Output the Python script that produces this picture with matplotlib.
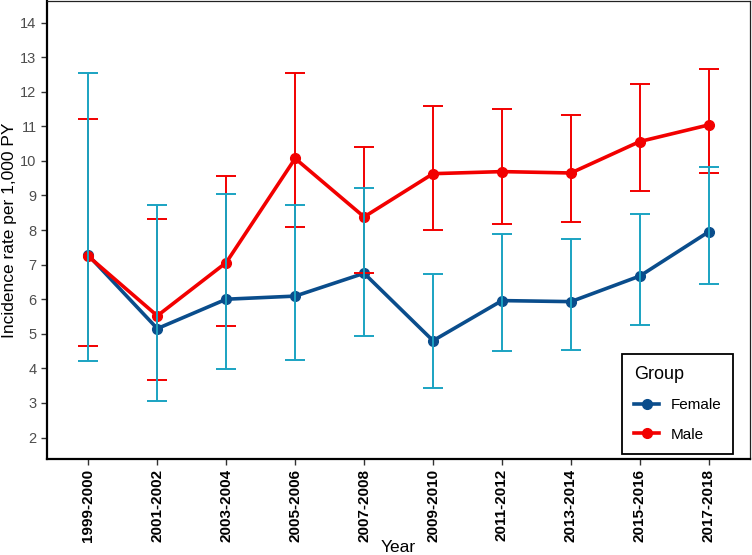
import numpy as np
import matplotlib
matplotlib.use("Agg")
import matplotlib.pyplot as plt

plt.rcParams['font.family'] = ['Liberation Sans', 'DejaVu Sans']

# data
periods = ['1999-2000', '2001-2002', '2003-2004', '2005-2006', '2007-2008',
           '2009-2010', '2011-2012', '2013-2014', '2015-2016', '2017-2018']

female_rate = [7.27, 5.15, 6.00, 6.09, 6.75, 4.80, 5.96, 5.93, 6.67, 7.95]
female_low = [4.22, 3.05, 3.98, 4.25, 4.94, 3.43, 4.51, 4.54, 5.25, 6.43]
female_high = [12.54, 8.71, 9.03, 8.71, 9.21, 6.72, 7.88, 7.74, 8.47, 9.82]

male_rate = [7.24, 5.52, 7.06, 10.07, 8.38, 9.63, 9.69, 9.65, 10.56, 11.04]
male_low = [4.66, 3.67, 5.22, 8.09, 6.76, 8.00, 8.17, 8.22, 9.13, 9.65]
male_high = [11.21, 8.31, 9.56, 12.55, 10.39, 11.58, 11.51, 11.32, 12.21, 12.65]

female_col = '#0A4D8C'
female_err = '#1AA3C2'
male_col = '#F20000'

fig = plt.figure(figsize=(7.52, 5.55), dpi=100)
ax = fig.add_axes([0.0625, 0.173, 0.935, 0.825])

x = np.arange(len(periods))

ax.plot(x, female_rate, color=female_col, lw=2.6, marker='o', ms=7,
        label='Female', zorder=3)
ax.plot(x, male_rate, color=male_col, lw=2.6, marker='o', ms=7,
        label='Male', zorder=4)

m = np.array(male_rate)
ax.errorbar(x, m, yerr=[m - np.array(male_low), np.array(male_high) - m],
            fmt='none', ecolor=male_col, elinewidth=1.4, capsize=7,
            capthick=1.4, zorder=5)
f = np.array(female_rate)
ax.errorbar(x, f, yerr=[f - np.array(female_low), np.array(female_high) - f],
            fmt='none', ecolor=female_err, elinewidth=1.4, capsize=7,
            capthick=1.4, zorder=6)

ax.set_xlim(-0.6, len(periods) - 0.4)
ax.set_ylim(1.38, 14.62)
ax.set_yticks(range(2, 15))
ax.set_xticks(x)
ax.set_xticklabels(periods, rotation=90, fontweight='bold', fontsize=11,
                   color='black')
ax.tick_params(axis='y', labelsize=10.5, labelcolor='#4D4D4D', color='#333333',
               length=4, width=1)
ax.tick_params(axis='x', color='#333333', length=4, width=1, pad=3)

ax.set_xlabel('Year', fontsize=12.5)
ax.set_ylabel('Incidence rate per 1,000 PY', fontsize=12.5)
ax.xaxis.set_label_coords(0.5, -0.176)
ax.yaxis.set_label_coords(-0.043, 0.5)

for s in ['left', 'bottom']:
    ax.spines[s].set_linewidth(1.6)
    ax.spines[s].set_color('black')
for s in ['top', 'right']:
    ax.spines[s].set_linewidth(0.9)
    ax.spines[s].set_color('#222222')

leg = ax.legend(title='Group', loc='lower right',
                bbox_to_anchor=(0.976, 0.011), borderaxespad=0,
                fontsize=11, title_fontsize=13, fancybox=False,
                edgecolor='black', framealpha=1, borderpad=0.8,
                labelspacing=1.0, handlelength=1.6, handletextpad=0.75)
leg._legend_box.align = 'left'
leg.get_frame().set_linewidth(1.3)

fig.savefig('out.png', dpi=100)
